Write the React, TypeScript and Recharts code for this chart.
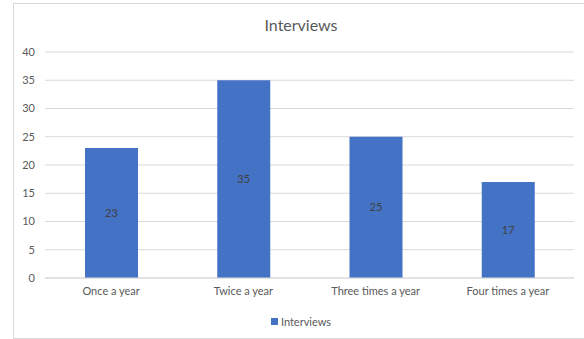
import { FC } from "react";
import {
  Bar,
  BarChart,
  CartesianGrid,
  LabelList,
  XAxis,
  YAxis,
} from "recharts";

const categories = ["Once a year", "Twice a year", "Three times a year", "Four times a year"];
const interviews = [23, 35, 25, 17];
const yTicks = [0, 5, 10, 15, 20, 25, 30, 35, 40];

const FONT = "Lato, 'Open Sans', sans-serif";
const TEXT = "#595959";
const BLUE = "#4472C4";

const App: FC = () => {
  const chartData = categories.map((name, i) => ({
    name,
    Interviews: interviews[i],
  }));

  return (
    <div style={{ position: "absolute", left: 0, top: 0, width: 584, height: 339, background: "#fff", fontFamily: FONT }}>
      <div
        style={{
          position: "absolute",
          left: 13,
          top: 3,
          width: 580,
          height: 334,
          border: "1px solid #d9d9d9",
        }}
      />
      <div
        style={{
          position: "absolute",
          left: 0,
          width: 602,
          top: 15,
          textAlign: "center",
          fontSize: 16,
          color: TEXT,
        }}
      >
        Interviews
      </div>
      <div style={{ position: "absolute", left: 0, top: 0 }}>
        <BarChart
          width={584}
          height={339}
          data={chartData}
          margin={{ top: 52, right: 10, bottom: 31, left: 15 }}
        >
          <CartesianGrid vertical={false} stroke="#d9d9d9" />
          <XAxis
            dataKey="name"
            height={30}
            stroke="#d9d9d9"
            tickLine={false}
            tickMargin={3}
            tick={{ fill: TEXT, fontSize: 11, fontFamily: FONT }}
            interval={0}
          />
          <YAxis
            width={30}
            domain={[0, 40]}
            ticks={yTicks}
            axisLine={false}
            tickLine={false}
            tickMargin={4}
            tick={{ fill: TEXT, fontSize: 11, fontFamily: FONT }}
          />
          <Bar dataKey="Interviews" fill={BLUE} barSize={53} isAnimationActive={false}>
            <LabelList
              dataKey="Interviews"
              position="center"
              fill="#404040"
              fontSize={11}
              fontFamily={FONT}
            />
          </Bar>
        </BarChart>
      </div>
      <div
        style={{
          position: "absolute",
          left: 0,
          width: 602,
          top: 313,
          textAlign: "center",
          fontSize: 11,
          color: TEXT,
        }}
      >
        <span
          style={{
            display: "inline-block",
            width: 7,
            height: 7,
            background: BLUE,
            marginRight: 3,
            verticalAlign: "middle",
          }}
        />
        <span style={{ verticalAlign: "middle" }}>Interviews</span>
      </div>
    </div>
  );
};

export default App;
